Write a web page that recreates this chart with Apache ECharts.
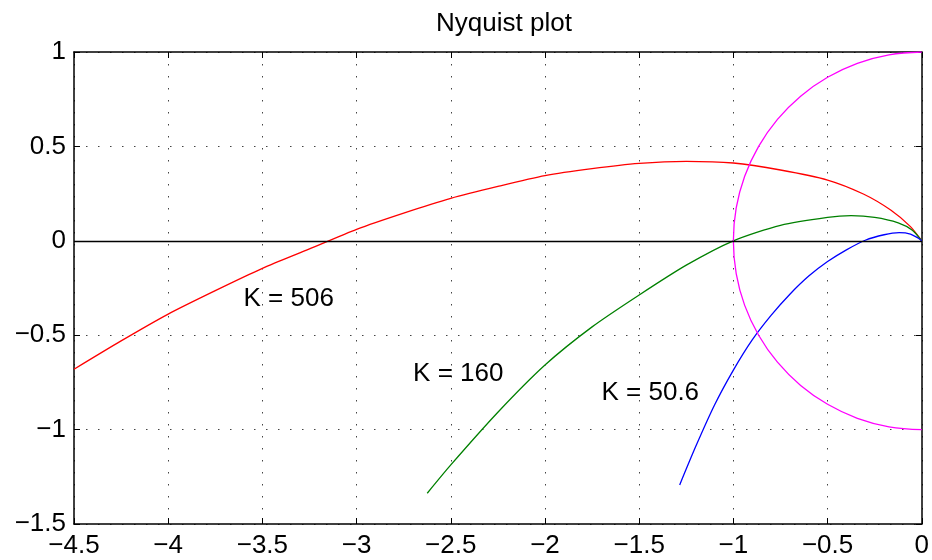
<!DOCTYPE html>
<html>
<head>
<meta charset="utf-8">
<script src="https://cdn.jsdelivr.net/npm/echarts@6/dist/echarts.min.js"></script>
<style>
  html, body { margin: 0; padding: 0; background: #fff; }
  #main { width: 932px; height: 560px; }
</style>
</head>
<body>
<div id="main"></div>
<script>
var redX = [-4.5, -4.25, -4.0, -3.75, -3.5, -3.25, -3.0, -2.75, -2.5, -2.25, -2.0, -1.75, -1.5, -1.25, -1.0, -0.75, -0.5, -0.31, -0.165, -0.06, 0];
var redY = [-0.68, -0.53, -0.388, -0.264, -0.146, -0.043, 0.061, 0.147, 0.225, 0.288, 0.345, 0.382, 0.41, 0.421, 0.412, 0.375, 0.322, 0.248, 0.163, 0.075, 0];

var greenX = [-2.625, -2.5, -2.25, -2.0, -1.75, -1.5, -1.25, -1.0, -0.75, -0.5, -0.375, -0.25, -0.125, -0.05, 0];
var greenY = [-1.337, -1.187, -0.908, -0.658, -0.456, -0.287, -0.129, 0, 0.082, 0.124, 0.133, 0.124, 0.095, 0.056, 0];

var blueX = [-1.285, -1.2, -1.1, -1.0, -0.9, -0.8, -0.7, -0.6, -0.5, -0.4, -0.3, -0.2, -0.12, -0.06, -0.02, 0];
var blueY = [-1.293, -1.09, -0.87, -0.685, -0.525, -0.395, -0.283, -0.187, -0.11, -0.048, 0.003, 0.032, 0.043, 0.036, 0.015, 0];

// unit circle (left half)
var circX = [0, -0.174, -0.342, -0.5, -0.643, -0.766, -0.866, -0.94, -0.985, -1, -0.985, -0.94, -0.866, -0.766, -0.643, -0.5, -0.342, -0.174, 0];
var circY = [1, 0.985, 0.94, 0.866, 0.766, 0.643, 0.5, 0.342, 0.174, 0, -0.174, -0.342, -0.5, -0.643, -0.766, -0.866, -0.94, -0.985, -1];

var labelText = ['K = 506', 'K = 160', 'K = 50.6'];
var labelX = [-3.6, -2.7, -1.7];
var labelY = [-0.308, -0.705, -0.803];

function pairs(xs, ys) {
  return xs.map(function (x, i) { return [x, ys[i]]; });
}

var fontFamily = 'Liberation Sans, Arial, Helvetica, sans-serif';
function tickFmt(v) {
  return String(Math.round(v * 10) / 10).replace('-', '\u2212');
}

var axisLine = { show: true, onZero: false, lineStyle: { color: '#000', width: 1.5 } };
var axisTick = { show: true, inside: true, length: 6, lineStyle: { color: '#000', width: 1 } };
var gridLine = { show: true, lineStyle: { color: '#444', type: [1.5, 10.5], width: 1 } };

var myChart = echarts.init(document.getElementById('main'));
myChart.setOption({
  animation: false,
  backgroundColor: '#fff',
  title: {
    text: 'Nyquist plot',
    left: 499, top: 6, textAlign: 'center',
    textStyle: { fontFamily: fontFamily, fontSize: 26, fontWeight: 'normal', color: '#000' }
  },
  grid: { left: 74, right: 7, top: 52, bottom: 36 },
  xAxis: [
    {
      type: 'value', min: -4.5, max: 0, interval: 0.5, position: 'bottom',
      axisLine: axisLine, axisTick: axisTick, splitLine: gridLine,
      axisLabel: { color: '#000', fontFamily: fontFamily, fontSize: 26, margin: 9, formatter: tickFmt, showMinLabel: true, showMaxLabel: true }
    },
    {
      type: 'value', min: -4.5, max: 0, interval: 0.5, position: 'top',
      axisLine: axisLine, axisTick: axisTick, splitLine: { show: false }, axisLabel: { show: false }
    }
  ],
  yAxis: [
    {
      type: 'value', min: -1.5, max: 1, interval: 0.5, position: 'left',
      axisLine: axisLine, axisTick: axisTick, splitLine: gridLine,
      axisLabel: { color: '#000', fontFamily: fontFamily, fontSize: 26, margin: 8, formatter: tickFmt, showMinLabel: true, showMaxLabel: true }
    },
    {
      type: 'value', min: -1.5, max: 1, interval: 0.5, position: 'right',
      axisLine: axisLine, axisTick: axisTick, splitLine: { show: false }, axisLabel: { show: false }
    }
  ],
  series: [
    {
      name: 'K = 506', type: 'line', data: pairs(redX, redY), showSymbol: false, symbol: 'none', smooth: 0.25,
      lineStyle: { color: '#ff0000', width: 1.3 },
      markLine: {
        silent: true, symbol: 'none', label: { show: false },
        lineStyle: { color: '#000', type: 'solid', width: 1.3 },
        data: [{ yAxis: 0 }]
      }
    },
    {
      name: 'K = 160', type: 'line', data: pairs(greenX, greenY), showSymbol: false, symbol: 'none', smooth: 0.25,
      lineStyle: { color: '#008000', width: 1.3 }
    },
    {
      name: 'K = 50.6', type: 'line', data: pairs(blueX, blueY), showSymbol: false, symbol: 'none', smooth: 0.25,
      lineStyle: { color: '#0000ff', width: 1.3 }
    },
    {
      name: 'unit circle', type: 'line', data: pairs(circX, circY), showSymbol: false, symbol: 'none', smooth: 0.4,
      lineStyle: { color: '#ff00ff', width: 1.3 }
    },
    {
      name: 'labels', type: 'scatter', symbolSize: 0, itemStyle: { opacity: 1 },
      data: labelText.map(function (t, i) { return { value: [labelX[i], labelY[i]], name: t }; }),
      label: {
        show: true, position: 'right', distance: 0, formatter: '{b}',
        color: '#000', opacity: 1, fontFamily: fontFamily, fontSize: 26
      }
    }
  ]
});
</script>
</body>
</html>
